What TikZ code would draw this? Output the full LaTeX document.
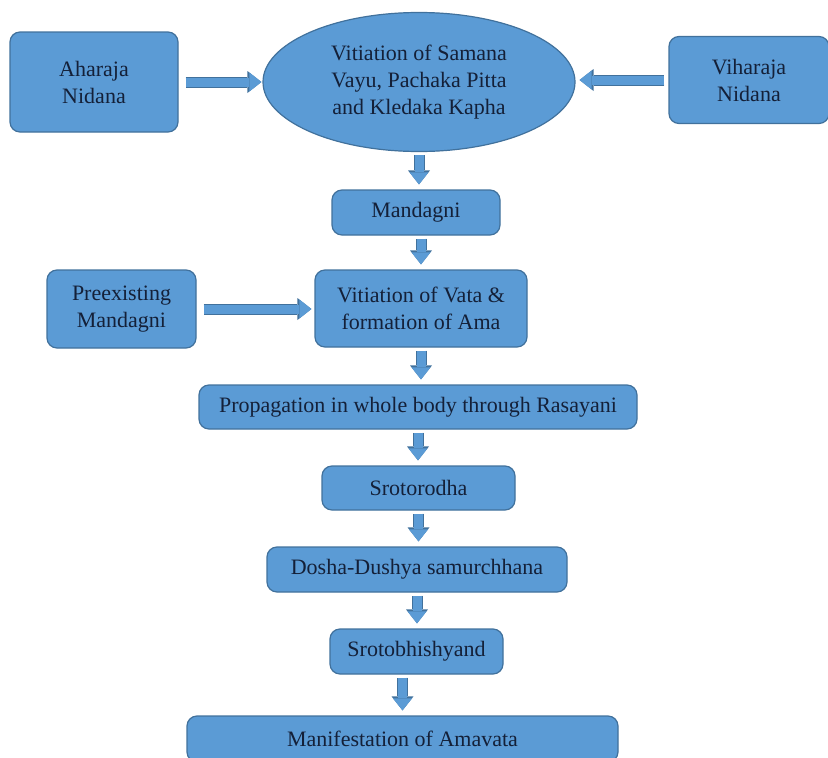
\documentclass[tikz,border=0pt]{standalone}
\usepackage{fontspec}
\setmainfont{Liberation Serif}
\usetikzlibrary{shapes,arrows.meta,positioning}

\definecolor{boxblue}{RGB}{91,155,213}
\definecolor{boxline}{RGB}{65,113,156}
\definecolor{boxtext}{RGB}{20,32,56}

\begin{document}
\begin{tikzpicture}[x=1pt,y=-1pt,
  box/.style={draw=boxline,line width=1.2pt,fill=boxblue,rounded corners=10pt,
    text=boxtext,align=center,inner sep=0pt,font=\fontsize{22}{27}\selectfont},
  flow/.style={preaction={draw=boxline,line width=11pt,
      -{Triangle[width=22pt,length=14pt,line width=0pt]}},
    draw=boxblue,line width=9pt,-{Triangle[width=19pt,length=12pt,line width=0pt]},
    shorten <=3pt,shorten >=5pt}]
\useasboundingbox (0,0) rectangle (828,758);
\node[box,minimum width=168pt,minimum height=100pt](aha) at (94,82){Aharaja\\Nidana};
\node[box,ellipse,rounded corners=0pt,minimum width=312pt,minimum height=139pt](ell) at (419,82)
  {Vitiation of Samana\\Vayu, Pachaka Pitta\\and Kledaka Kapha};
\node[box,minimum width=160pt,minimum height=87pt](vih) at (749,80){Viharaja\\Nidana};
\node[box,minimum width=168pt,minimum height=45pt](man) at (416,212.5){Mandagni};
\node[box,minimum width=149pt,minimum height=78pt](pre) at (121.5,309){Preexisting\\Mandagni};
\node[box,minimum width=212pt,minimum height=77pt](vata) at (421,308.5){Vitiation of Vata \&\\formation of Ama};
\node[box,minimum width=438pt,minimum height=44pt](prop) at (418,407){Propagation in whole body through Rasayani};
\node[box,minimum width=193pt,minimum height=44pt](sro) at (418.5,488){Srotorodha};
\node[box,minimum width=300pt,minimum height=45pt](dos) at (417,569.5){Dosha-Dushya samurchhana};
\node[box,minimum width=173pt,minimum height=45pt](sbh) at (416.5,651.5){Srotobhishyand};
\node[box,minimum width=431pt,minimum height=46pt](mani) at (402.5,739){Manifestation of Amavata};

% side inputs
\draw[flow,shorten <=7pt,shorten >=1pt] (aha.east |- ell.west) -- (ell.west);
\draw[flow,shorten <=4pt,shorten >=4pt] (vih.west) -- (vih.west -| ell.east);
\draw[flow,shorten <=7pt,shorten >=3pt] (pre.east) -- (pre.east -| vata.west);

% main chain
\draw[flow] (ell.south) -- (ell.south |- man.north);
\draw[flow] (vata.north |- man.south) -- (vata.north);
\draw[flow] (vata.south) -- (vata.south |- prop.north);
\draw[flow] (prop.south) -- (prop.south |- sro.north);
\draw[flow] (sro.south) -- (sro.south |- dos.north);
\draw[flow] (dos.south) -- (dos.south |- sbh.north);
\draw[flow] (sbh.south -| mani.north) -- (mani.north);
\end{tikzpicture}
\end{document}
